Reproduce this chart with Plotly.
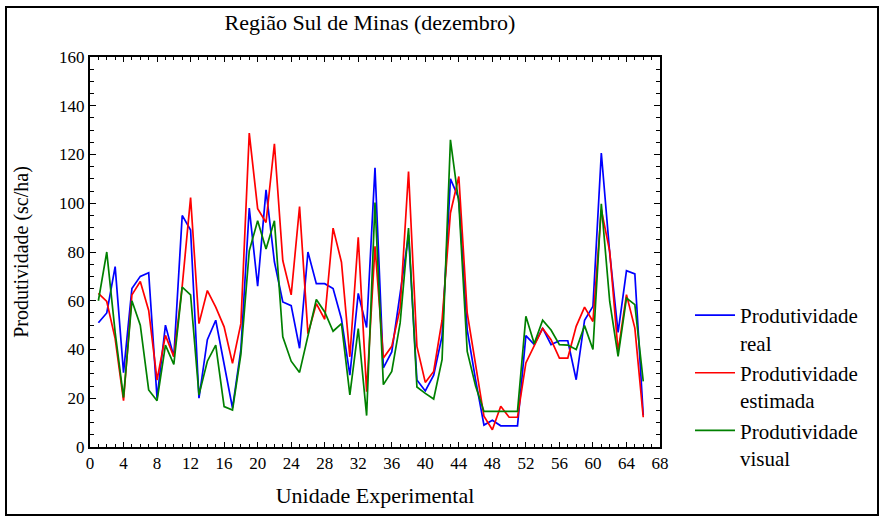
import plotly.graph_objects as go

unidades = list(range(1, 67))
prod_real = [51, 55, 74, 30.5, 65, 70, 71.5, 20, 50, 37, 95, 89, 20, 44, 52, 34, 16,
             40, 98, 66, 105.5, 76, 59.5, 58, 40.5, 80, 67, 67, 65, 52.5, 29.5, 63, 49, 114.5,
             32.5, 39, 62.5, 87, 27.5, 23, 29.5, 45.5, 110, 102, 48, 27.5, 9, 11, 8.7, 8.7,
             8.7, 45.7, 42, 48.8, 42, 43.6, 43.6, 27.6, 52, 57.7, 120.6, 79.6, 47, 72.3, 71, 13]
prod_estimada = [63, 59.7, 44.5, 19, 62.4, 67.9, 56, 27.5, 45.8, 37, 66, 102.3, 50.6, 64.2, 57.4, 49.3, 34.3,
                 50.6, 128.8, 97.8, 92.1, 124.4, 76.5, 62.4, 98.6, 46.5, 58.8, 52.4, 89.8, 75.8, 37, 86, 22.7, 82.3,
                 36.5, 41.3, 57, 113, 41.3, 26.5, 31, 52, 96, 111, 55, 34, 12.6, 7.1, 16.7, 12.2,
                 12.2, 34.5, 41.8, 48.7, 44, 36.5, 36.5, 49.5, 57.4, 51.5, 97.4, 80.3, 39.2, 62.5, 48.8, 12.2]
prod_visual = [60, 80, 47, 20.3, 60, 50, 23.4, 19, 41.8, 33.9, 65.6, 62.4, 21.4, 35.2, 41.8, 16.6, 15.2,
               38, 80.5, 92.8, 81.2, 92.8, 45.2, 35.2, 30.6, 45.8, 60.5, 55.4, 47.5, 50.6, 21.4, 48.6, 12.9, 100.3,
               25.6, 31, 50.9, 89.8, 24.6, 22, 19.7, 35.8, 126, 100, 39.2, 25, 14.6, 14.6, 14.6, 14.6,
               14.6, 53.6, 42.4, 52, 48, 42, 41.8, 40, 49.8, 40, 99.8, 59.7, 37.2, 61.1, 58.4, 26.9]

series_names = ["Produtividade<br>real", "Produtividade<br>estimada", "Produtividade<br>visual"]
series_colors = ["#0000ff", "#ff0000", "#008000"]
x_ticks = list(range(0, 69, 4))
y_ticks = list(range(0, 161, 20))

FONT = "Liberation Serif, Times New Roman, serif"

fig = go.Figure()
for vals, name, color in zip([prod_real, prod_estimada, prod_visual], series_names, series_colors):
    fig.add_trace(go.Scatter(x=unidades, y=vals, mode="lines", name=name,
                             line=dict(color=color, width=1.7)))

L, R, T, B = 90, 221, 57, 70
W, H = 881, 517
pw, ph = W - L - R, H - T - B

def px2x(p):
    return (p - L) / pw

def py2y(p):
    return (H - B - p) / ph

fig.update_layout(
    width=W, height=H,
    margin=dict(l=L, r=R, t=T, b=B),
    paper_bgcolor="white", plot_bgcolor="white",
    font=dict(family=FONT, color="black", size=17),
    title=dict(text="Região Sul de Minas (dezembro)", x=px2x(370), xref="paper", xanchor="center",
               y=1 - 22 / H, yref="container", yanchor="middle",
               font=dict(family=FONT, size=22, color="black")),
    showlegend=True,
    legend=dict(x=px2x(690), y=py2y(295), xanchor="left", yanchor="top", valign="top",
                font=dict(family=FONT, size=21, color="black"),
                bgcolor="rgba(0,0,0,0)", borderwidth=0, itemwidth=40, tracegroupgap=0),
    xaxis=dict(range=[0, 68], tickvals=x_ticks, ticks="inside", ticklen=5, tickwidth=1,
               tickcolor="black", showline=True, linecolor="black", linewidth=2, mirror="allticks",
               showgrid=False, zeroline=False, tickfont=dict(size=17),
               minor=dict(dtick=1, tick0=0, ticks="inside", ticklen=3, tickcolor="black", showgrid=False),
               title=dict(text="Unidade Experimental", font=dict(size=22), standoff=15)),
    yaxis=dict(range=[0, 160], tickvals=y_ticks, ticks="inside", ticklen=6, tickwidth=1,
               tickcolor="black", showline=True, linecolor="black", linewidth=2, mirror="allticks",
               showgrid=False, zeroline=False, tickfont=dict(size=17),
               minor=dict(dtick=5, tick0=0, ticks="inside", ticklen=4, tickcolor="black", showgrid=False),
               title=dict(text="Produtividade (sc/ha)", font=dict(size=20), standoff=25)),
    shapes=[dict(type="rect", xref="paper", yref="paper",
                 x0=px2x(6), x1=px2x(878), y0=py2y(515), y1=py2y(7),
                 line=dict(color="black", width=2), fillcolor="rgba(0,0,0,0)", layer="below")],
)

fig.write_html("out.html", config={"displayModeBar": False},
               post_script="document.body.style.margin='0px';")
